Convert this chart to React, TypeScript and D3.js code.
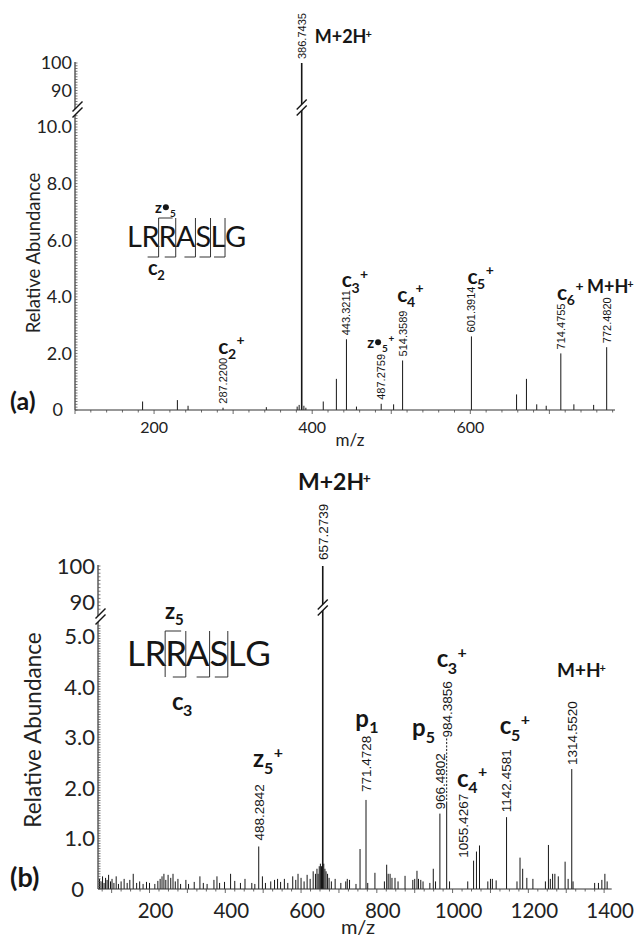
import React from 'react';
import * as d3 from 'd3';

const FONT = "Lato, 'Open Sans', sans-serif";
const NUM_FONT = "'Liberation Sans', Arial, sans-serif";
const INK = '#161616';

// ---------------- Panel (a) data ----------------
const mzA = [185.5, 229.5, 243, 287.22, 342, 381, 383.5, 386.7435, 389.5, 392, 414, 430.6, 443.3211, 456, 487.2759, 503, 514.3589, 601.3914, 658.5, 671, 684, 696, 714.4755, 731, 756, 772.482];
const intA = [0.3, 0.35, 0.15, 0.08, 0.1, 0.12, 0.18, 100, 0.15, 0.08, 0.3, 1.1, 2.5, 0.12, 0.22, 0.2, 1.75, 2.6, 0.55, 1.1, 0.2, 0.15, 2.0, 0.2, 0.18, 2.22];
const massMzA = [287.22, 386.7435, 443.3211, 487.2759, 514.3589, 601.3914, 714.4755, 772.482];
const massTextA = ['287.2200', '386.7435', '443.3211', '487.2759', '514.3589', '601.3914', '714.4755', '772.4820'];
const ionMzA = [287.22, 386.7435, 443.3211, 487.2759, 514.3589, 601.3914, 714.4755, 772.482];
const ionBaseA = ['c', 'M+2H', 'c', 'z', 'c', 'c', 'c', 'M+H'];
const ionSubA = ['2', '', '3', '5', '4', '5', '6', ''];
const ionSupA = ['+', '+', '+', '+', '+', '+', '+', '+'];
const xTicksA = [200, 400, 600];
const yTicksLowA = [0, 2, 4, 6, 8, 10];
const yTickTextLowA = ['0', '2.0', '4.0', '6.0', '8.0', '10.0'];
const yTicksUpA = [90, 100];

// ---------------- Panel (b) data ----------------
const mzB = [68, 72, 76, 80, 84, 88, 92, 97, 101, 106, 112, 118, 125, 133, 141, 148, 157, 166, 174, 183, 192, 200, 214, 222, 228, 233, 238, 243, 249, 256, 262, 268, 275, 282, 296, 303, 318, 333, 342, 352, 370, 378, 385, 398, 414, 425, 440, 452, 470, 478, 488.2842, 498, 506, 520, 530, 538, 546, 556, 565, 578, 586, 592, 600, 608, 616, 624, 632, 638, 642, 645, 648, 651, 654, 657.2739, 660, 663, 666, 670, 674, 680, 690, 705, 718, 722, 728, 745, 755.7, 771.4728, 776, 795, 820, 826, 830, 835, 840, 848, 856, 874.5, 895, 900, 906, 910, 916, 922, 940, 949, 955, 966.4802, 984.3856, 992, 1040, 1055.4267, 1063, 1071, 1093, 1100, 1105, 1115, 1142.4581, 1170, 1178, 1185, 1196, 1212, 1245, 1253, 1258, 1264, 1270, 1279, 1297, 1305, 1314.552, 1318, 1375, 1385, 1394, 1402, 1408];
const intB = [0.2, 0.15, 0.25, 0.12, 0.22, 0.18, 0.28, 0.15, 0.2, 0.12, 0.25, 0.1, 0.15, 0.2, 0.12, 0.18, 0.3, 0.12, 0.15, 0.1, 0.14, 0.12, 0.1, 0.16, 0.2, 0.25, 0.3, 0.18, 0.28, 0.22, 0.3, 0.15, 0.2, 0.1, 0.18, 0.1, 0.14, 0.25, 0.12, 0.1, 0.18, 0.25, 0.12, 0.14, 0.3, 0.16, 0.12, 0.2, 0.12, 0.1, 0.84, 0.25, 0.12, 0.15, 0.18, 0.2, 0.14, 0.2, 0.12, 0.25, 0.18, 0.3, 0.22, 0.15, 0.28, 0.2, 0.35, 0.3, 0.4, 0.3, 0.45, 0.5, 0.45, 100, 0.5, 0.4, 0.35, 0.3, 0.22, 0.15, 0.2, 0.12, 0.15, 0.2, 0.18, 0.1, 0.79, 1.76, 0.12, 0.32, 0.15, 0.48, 0.3, 0.3, 0.22, 0.22, 0.15, 0.26, 0.18, 0.2, 0.36, 0.2, 0.18, 0.15, 0.12, 0.4, 0.15, 1.49, 1.73, 0.15, 0.15, 0.56, 0.74, 0.86, 0.15, 0.2, 0.2, 0.17, 1.42, 0.15, 0.62, 0.4, 0.22, 0.2, 0.15, 0.87, 0.2, 0.3, 0.3, 0.25, 0.54, 0.2, 2.37, 0.15, 0.12, 0.12, 0.18, 0.3, 0.15];
const massMzB = [488.2842, 657.2739, 771.4728, 966.4802, 984.3856, 1055.4267, 1142.4581, 1314.552];
const massTextB = ['488.2842', '657.2739', '771.4728', '966.4802', '984.3856', '1055.4267', '1142.4581', '1314.5520'];
const ionMzB = [488.2842, 657.2739, 771.4728, 966.4802, 984.3856, 1055.4267, 1142.4581, 1314.552];
const ionBaseB = ['z', 'M+2H', 'p', 'p', 'c', 'c', 'c', 'M+H'];
const ionSubB = ['5', '', '1', '5', '3', '4', '5', ''];
const ionSupB = ['+', '+', '', '', '+', '+', '+', '+'];
const xTicksB = [200, 400, 600, 800, 1000, 1200, 1400];
const yTicksLowB = [0, 1, 2, 3, 4, 5];
const yTickTextLowB = ['0', '1.0', '2.0', '3.0', '4.0', '5.0'];
const yTicksUpB = [90, 100];

const peptide = ['L', 'R', 'R', 'A', 'S', 'L', 'G'];
const zCutsA = [2];
const cCutsA = [2, 3, 4, 5, 6];
const zCutsB = [2];
const cCutsB = [3, 4, 5];

// ---------------- layout (positions / styles only) ----------------
const LAYOUT_A = {
  massGap: [4, 4, 4, 4, 4, 4, 4, 4],
  massLift: [0, 0, 0, 0, 0, 0, 0, 0],
  massDx: [0, 0, 0, 0, 0, 0, 0, 0],
  ionDx: [-4.7, 13, -4.7, -14, -5.3, -4, -3.7, -19.7],
  ionGap: [4, -30, 2, 6, 9, 3, 4, 4],
  ionSize: [21, 18, 21, 15, 21, 21, 21, 18],
};
const LAYOUT_B = {
  massGap: [6, 6, 8, 4, 4, 3, 5, 4],
  massLift: [0, 0, 0, 0, 60, 0, 0, 0],
  massDx: [0, 0, 0, 0, 0, -10.5, 0, 0],
  ionDx: [-5.7, -24.7, -10.7, -28, -10, -16.5, -6.7, -14.7],
  ionGap: [17, 14, 9, 17, 14, 7, 14, 24],
  ionSize: [24, 23, 24, 24, 24, 24, 24, 19],
};

const BOLD_W: Record<string, number> = { M: 0.87, '+': 0.58, '2': 0.58, H: 0.76, c: 0.46, z: 0.46, p: 0.58 };
const estW = (s: string, size: number) => s.split('').reduce((a, ch) => a + (BOLD_W[ch] ?? 0.55) * size, 0);
const PEP_W: Record<string, number> = { L: 0.5, R: 0.59, A: 0.68, S: 0.52, G: 0.72 };

function Ion({ x, y, base, sub, sup, size, bullet }: any) {
  const isM = base.startsWith('M');
  const bw = estW(base, size);
  const subSize = Math.round(size * 0.66);
  const supSize = isM ? Math.round(size * 0.6) : Math.round(size * 0.66);
  const br = bullet ? size * 0.2 : 0;
  const subX = x + bw + (bullet ? br * 2 + 2 : 0);
  const subW = sub ? subSize * 0.58 : 0;
  return (
    <g fill={INK} fontFamily={FONT} fontWeight={700}>
      <text x={x} y={y} fontSize={size}>{base}</text>
      {bullet && <circle cx={x + bw + br + 1} cy={y - size * 0.38} r={br} fill={INK} />}
      {sub && <text x={subX} y={y + subSize * 0.4} fontSize={subSize}>{sub}</text>}
      {sup && (
        <text x={isM ? x + bw + 0.5 : subX + subW + 0.5} y={isM ? y - size * 0.3 : y - size * 0.4} fontSize={supSize}>{sup}</text>
      )}
    </g>
  );
}

function Break({ cx, cy }: { cx: number; cy: number }) {
  return (
    <g>
      <line x1={cx - 5} y1={cy + 5} x2={cx + 5} y2={cy - 5} stroke="#fff" strokeWidth={4} />
      {[-3, 3].map((d) => (
        <line key={d} x1={cx - 5} y1={cy + 5 + d} x2={cx + 5} y2={cy - 5 + d} stroke={INK} strokeWidth={1.4} />
      ))}
    </g>
  );
}

function Peptide({ x0, baseline, size, top, bottom, zCuts, cCuts, cuts, hookLen }: any) {
  let acc = x0;
  const xs: number[] = [];
  const bounds: number[] = [x0];
  peptide.forEach((ch) => {
    xs.push(acc);
    acc += PEP_W[ch] * size;
    bounds.push(acc);
  });
  return (
    <g>
      {peptide.map((ch, i) => (
        <text key={i} x={xs[i]} y={baseline} fontSize={size} fontFamily={FONT} fill={INK}>{ch}</text>
      ))}
      {cuts.map((k: number) => {
        const bx = bounds[k];
        return <line key={'v' + k} x1={bx} x2={bx} y1={top} y2={bottom} stroke="#333" strokeWidth={1} />;
      })}
      {zCuts.map((k: number) => (
        <line key={'z' + k} x1={bounds[k]} x2={bounds[k] + hookLen + 3} y1={top} y2={top} stroke="#333" strokeWidth={1} />
      ))}
      {cCuts.map((k: number) => (
        <line key={'c' + k} x1={bounds[k] - hookLen} x2={bounds[k]} y1={bottom} y2={bottom} stroke="#333" strokeWidth={1} />
      ))}
    </g>
  );
}

function Spectrum(p: any) {
  const { x, yL, yU, axisX, baseY, mz, ints, massMz, massText, massSize, ionMz, ionBase, ionSub, ionSup, layout } = p;
  const y = (v: number) => (v > 50 ? yU(v) : yL(v));
  const [xd0, xd1] = x.domain();
  const topY = yU(100);
  const minorLow = d3.range(0, p.lowTop + 1e-9, p.minorLow);
  const minorUp = d3.range(p.upBottom, 100 + 1e-9, 1);
  const xMinor = d3.range(Math.ceil(xd0 / p.xMinor) * p.xMinor, xd1, p.xMinor);
  const numLen = (t: string) => massSize * (0.556 * (t.length - 1) + 0.278);
  const topOf = (m: number) => y(ints[mz.indexOf(m)]);
  return (
    <g>
      {mz.map((m: number, i: number) => (
        <line key={i} x1={x(m)} x2={x(m)} y1={baseY} y2={y(ints[i])} stroke={INK} strokeWidth={ints[i] > 50 ? 1.6 : 1} />
      ))}
      <line x1={axisX} x2={axisX} y1={topY - 1} y2={baseY} stroke="#333" strokeWidth={1.2} />
      <line x1={axisX} x2={x(xd1)} y1={baseY} y2={baseY} stroke="#333" strokeWidth={1.2} />
      {minorLow.map((v: number, i: number) => (
        <line key={'ml' + i} x1={axisX} x2={axisX + 2.5} y1={yL(v)} y2={yL(v)} stroke="#555" strokeWidth={0.8} />
      ))}
      {minorUp.map((v: number, i: number) => (
        <line key={'mu' + i} x1={axisX} x2={axisX + 2.5} y1={yU(v)} y2={yU(v)} stroke="#555" strokeWidth={0.8} />
      ))}
      {xMinor.map((v: number, i: number) => (
        <line key={'xm' + i} x1={x(v)} x2={x(v)} y1={baseY} y2={baseY + (v % 100 === 0 ? 4 : 2.5)} stroke="#444" strokeWidth={0.8} />
      ))}
      {p.yTicksLow.map((v: number, i: number) => (
        <text key={'yl' + i} x={v === 0 ? p.zeroX : axisX - 3} y={yL(v)} dy="0.36em" textAnchor="end" fontSize={p.yLabelSize} fontFamily={FONT} fill="#222">
          {p.yTickTextLow[i]}
        </text>
      ))}
      {p.yTicksUp.map((v: number, i: number) => (
        <text key={'yu' + i} x={axisX - 3} y={yU(v)} dy="0.36em" textAnchor="end" fontSize={p.yLabelSize} fontFamily={FONT} fill="#222">
          {v}
        </text>
      ))}
      {p.xTicks.map((v: number, i: number) => (
        <text key={'xt' + i} x={x(v) + p.xLabelDx} y={p.xLabelY} textAnchor="middle" fontSize={p.xLabelSize} fontFamily={FONT} fill="#222">
          {v}
        </text>
      ))}
      <text x={p.mzX} y={p.mzY} textAnchor="middle" fontSize={p.mzSize} fontFamily={FONT} fill="#222">m/z</text>
      <text transform={`translate(${p.titleX},${p.titleY}) rotate(-90)`} textAnchor="middle" fontSize={p.titleSize} fontFamily={FONT} fill="#222">
        Relative Abundance
      </text>
      <text x={p.panelX} y={p.panelY} fontSize={p.panelSize} fontWeight={700} fontFamily={FONT} fill={INK}>{p.panelLabel}</text>
      <Break cx={axisX + 2.5} cy={p.breakY} />
      <Break cx={x(p.mainMz)} cy={p.peakBreakY} />
      {massMz.map((m: number, i: number) => {
        const bottom = topOf(m) - layout.massGap[i] - layout.massLift[i];
        const lx = x(m) + layout.massDx[i];
        return (
          <g key={'ms' + i}>
            {layout.massLift[i] > 0 && (
              <line x1={lx} x2={lx} y1={bottom + 1} y2={topOf(m) - 1} stroke={INK} strokeWidth={1} strokeDasharray="2,1.5" />
            )}
            <text transform={`translate(${lx},${bottom}) rotate(-90)`} dy="0.36em" fontSize={massSize} fontFamily={NUM_FONT} fill={INK}>
              {massText[i]}
            </text>
          </g>
        );
      })}
      {ionMz.map((m: number, i: number) => {
        const mi = massMz.indexOf(m);
        const labTop = topOf(m) - layout.massGap[mi] - layout.massLift[mi] - numLen(massText[mi]);
        return (
          <Ion key={'ion' + i} x={x(m) + layout.ionDx[i]} y={labTop - layout.ionGap[i]} base={ionBase[i]} sub={ionSub[i]} sup={ionSup[i]} size={layout.ionSize[i]} bullet={p.bulletIon === i} />
        );
      })}
    </g>
  );
}

export default function App() {
  const xA = d3.scaleLinear().domain([100, 783]).range([75, 615]);
  const yLA = d3.scaleLinear().domain([0, 10]).range([410, 127]);
  const yUA = d3.scaleLinear().domain([90, 100]).range([90.5, 63]);
  const xB = d3.scaleLinear().domain([64, 1420]).range([98, 611.7]);
  const yLB = d3.scaleLinear().domain([0, 5]).range([889, 636]);
  const yUB = d3.scaleLinear().domain([90, 100]).range([602, 566]);

  return (
    <svg width={634} height={939} viewBox="0 0 634 939" style={{ position: 'absolute', left: 0, top: 0, background: '#fff' }}>
      <rect width={634} height={939} fill="#fff" />
      <Spectrum
        x={xA} yL={yLA} yU={yUA} axisX={75} baseY={410}
        mz={mzA} ints={intA} massMz={massMzA} massText={massTextA} massSize={11}
        ionMz={ionMzA} ionBase={ionBaseA} ionSub={ionSubA} ionSup={ionSupA} layout={LAYOUT_A} bulletIon={3}
        lowTop={10.5} minorLow={0.1} upBottom={85} xMinor={20}
        yTicksLow={yTicksLowA} yTickTextLow={yTickTextLowA} yTicksUp={yTicksUpA} yLabelSize={18} zeroX={63}
        xTicks={xTicksA} xLabelDx={0} xLabelY={433} xLabelSize={16}
        mzX={350} mzY={446} mzSize={17}
        titleX={40} titleY={253} titleSize={18.5}
        panelX={10} panelY={410} panelSize={25} panelLabel="(a)"
        breakY={109.5} peakBreakY={107.5} mainMz={386.7435}
      />
      <Peptide x0={127} baseline={247} size={29} top={218} bottom={257} zCuts={zCutsA} cCuts={cCutsA} cuts={[2, 3, 4, 5, 6]} hookLen={11} />
      <Ion x={155} y={213} base="z" sub="5" sup="" size={15} bullet={true} />
      <Ion x={148} y={275} base="c" sub="2" sup="" size={20} />

      <Spectrum
        x={xB} yL={yLB} yU={yUB} axisX={98} baseY={889}
        mz={mzB} ints={intB} massMz={massMzB} massText={massTextB} massSize={13.5}
        ionMz={ionMzB} ionBase={ionBaseB} ionSub={ionSubB} ionSup={ionSupB} layout={LAYOUT_B} bulletIon={-1}
        lowTop={5.2} minorLow={0.05} upBottom={88} xMinor={25}
        yTicksLow={yTicksLowB} yTickTextLow={yTickTextLowB} yTicksUp={yTicksUpB} yLabelSize={22} zeroX={84}
        xTicks={xTicksB} xLabelDx={6} xLabelY={918} xLabelSize={20.5}
        mzX={358} mzY={934} mzSize={20}
        titleX={41} titleY={730} titleSize={22.5}
        panelX={10} panelY={887} panelSize={27} panelLabel="(b)"
        breakY={616.5} peakBreakY={607.5} mainMz={657.2739}
      />
      <Peptide x0={127} baseline={666} size={35} top={631} bottom={677} zCuts={zCutsB} cCuts={cCutsB} cuts={[2, 3, 4, 5]} hookLen={13} />
      <Ion x={165} y={619} base="z" sub="5" sup="" size={22} />
      <Ion x={172} y={710} base="c" sub="3" sup="" size={24} />
    </svg>
  );
}
